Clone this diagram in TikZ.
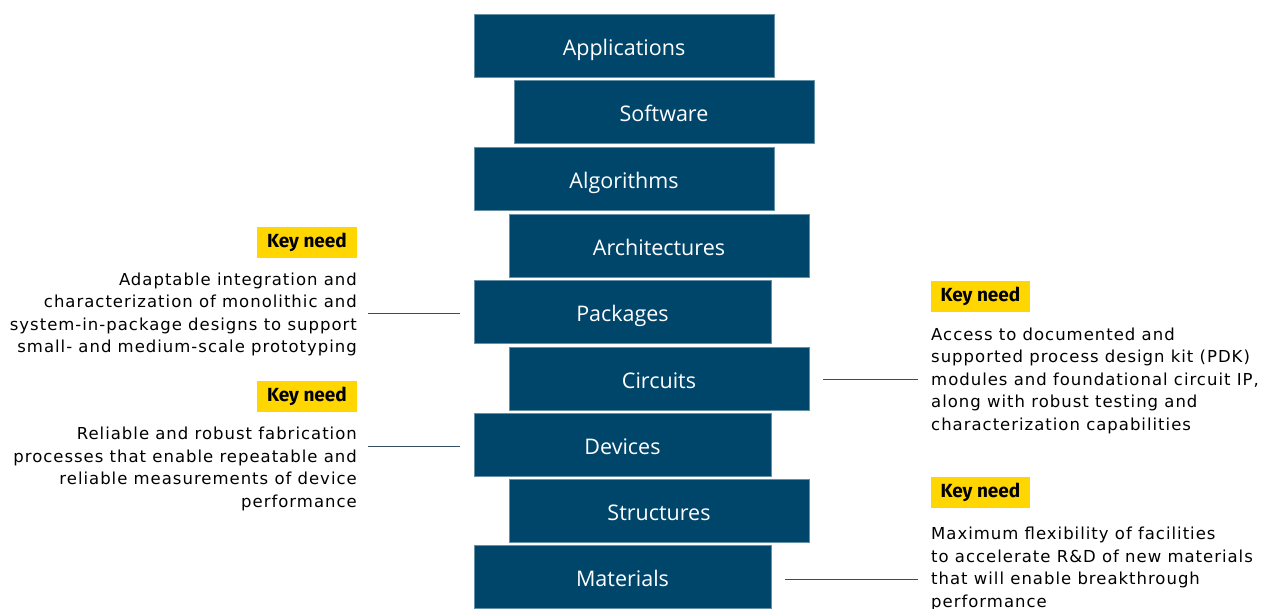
\documentclass[tikz,border=0pt]{standalone}
\usepackage{fontspec}
\setmainfont{DejaVu Sans}[LetterSpace=6]
\newfontfamily\boxfont{Open Sans}
\newfontfamily\keyfont{Fira Sans}
\definecolor{boxblue}{RGB}{0,70,106}
\definecolor{keyyellow}{RGB}{255,214,0}
\definecolor{linecol}{RGB}{52,78,100}
\begin{document}
\begin{tikzpicture}[x=1pt,y=-1pt,
  layer/.style={fill=boxblue,draw=boxblue!60!white,line width=0.4pt,minimum width=300pt,minimum height=63pt,inner sep=0pt,text height=19pt,text depth=0pt,text=white,font=\boxfont\fontsize{21.5}{24}\selectfont},
  keytag/.style={fill=keyyellow,minimum width=100pt,minimum height=31pt,inner sep=0pt,font=\keyfont\bfseries\fontsize{19}{22}\selectfont},
  needtext/.style={inner sep=0pt,font=\fontsize{16.5}{22.4}\selectfont},
  conn/.style={draw=linecol,line width=1pt}]
\useasboundingbox (0,0) rectangle (1265,608);
\node[layer] (app) at (624,45.5) {Applications};
\node[layer] (sw) at (664,111.5) {Software};
\node[layer] (alg) at (624,178.5) {Algorithms};
\node[layer] (arch) at (659,245.5) {Architectures};
\node[layer,minimum width=297pt] (pkg) at (622.5,311.5) {Packages};
\node[layer] (circ) at (659,378.5) {Circuits};
\node[layer,minimum width=297pt] (dev) at (622.5,444.5) {Devices};
\node[layer] (str) at (659,510.5) {Structures};
\node[layer,minimum width=297pt] (mat) at (622.5,576.5) {Materials};
% key needs
\node[keytag] (k1) at (307,242.5) {Key need};
\node[needtext,anchor=base east,align=right] (t1) at (357,352.5) {Adaptable integration and\\characterization of monolithic and\\system-in-package designs to support\\small- and medium-scale prototyping};
\node[keytag] (k2) at (307,396.5) {Key need};
\node[needtext,anchor=base east,align=right] (t2) at (357,507) {Reliable and robust fabrication\\processes that enable repeatable and\\reliable measurements of device\\performance};
\node[keytag,minimum width=99pt] (k3) at (980.5,296) {Key need};
\node[needtext,anchor=base west,align=left] (t3) at (931,430) {Access to documented and\\supported process design kit (PDK)\\modules and foundational circuit IP,\\along with robust testing and\\characterization capabilities};
\node[keytag,minimum width=99pt] (k4) at (980.5,492) {Key need};
\node[needtext,anchor=base west,align=left] (t4) at (931,607) {Maximum flexibility of facilities\\to accelerate R\&D of new materials\\that will enable breakthrough\\performance};
% connectors
\coordinate (c1) at (368,313);
\coordinate (c2) at (368,446);
\coordinate (c3) at (918,379);
\coordinate (c4) at (918,579);
\draw[conn] (c1) -- ([xshift=-14pt]pkg.west |- c1);
\draw[conn] (c2) -- ([xshift=-14pt]dev.west |- c2);
\draw[conn] ([xshift=14pt]circ.east |- c3) -- (c3);
\draw[conn] ([xshift=14pt]mat.east |- c4) -- (c4);
\end{tikzpicture}
\end{document}
